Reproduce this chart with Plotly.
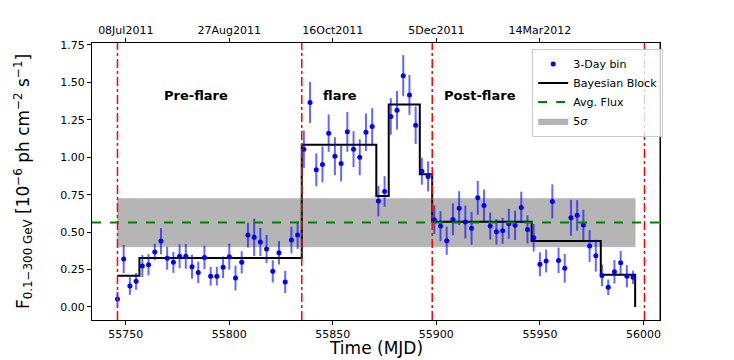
import plotly.graph_objects as go

# 3-day binned light curve (MJD, flux in 1e-6 ph cm^-2 s^-1)
mjd_start = 55746.0
flux = [0.053, 0.32, 0.14, 0.171, 0.273, 0.282, 0.367, 0.44, 0.325, 0.298,
        0.338, 0.338, 0.269, 0.231, 0.331, 0.205, 0.205, 0.265, 0.336, 0.193,
        0.298, 0.48, 0.465, 0.434, 0.387, 0.238, 0.362, 0.167, 0.447, 0.48,
        1.054, 1.366, 0.916, 0.952, 1.161, 1.007, 0.959, 1.17, 1.054, 1.0,
        1.167, 1.205, 0.707, 0.772, 1.272, 1.314, 1.545, 1.416, 1.214, 0.907,
        0.872, 0.583, 0.54, 0.442, 0.585, 0.66, 0.567, 0.525, 0.729, 0.678,
        0.54, 0.502, 0.509, 0.556, 0.545, 0.665, 0.518, 0.462, 0.285, 0.307,
        0.705, 0.311, 0.258, 0.596, 0.612, 0.547, 0.407, 0.342, 0.211, 0.131,
        0.235, 0.296, 0.205, 0.198]
flux_err = [0.049, 0.094, 0.059, 0.056, 0.074, 0.071, 0.056, 0.087, 0.076, 0.07,
            0.08, 0.083, 0.08, 0.072, 0.078, 0.062, 0.062, 0.072, 0.087, 0.083,
            0.074, 0.083, 0.125, 0.094, 0.094, 0.074, 0.078, 0.074, 0.089, 0.092,
            0.125, 0.137, 0.11, 0.12, 0.125, 0.127, 0.12, 0.133, 0.12, 0.12,
            0.125, 0.122, 0.102, 0.102, 0.122, 0.129, 0.137, 0.133, 0.125, 0.09,
            0.1, 0.096, 0.1, 0.094, 0.106, 0.113, 0.11, 0.11, 0.113, 0.106,
            0.09, 0.085, 0.087, 0.1, 0.098, 0.105, 0.094, 0.092, 0.08, 0.076,
            0.114, 0.085, 0.096, 0.12, 0.102, 0.102, 0.106, 0.106, 0.072, 0.052,
            0.078, 0.078, 0.074, 0.044]
mjd = [mjd_start + 3 * i for i in range(len(flux))]

# Bayesian blocks
bb_edges = [55746, 55756.6, 55835, 55871, 55877, 55892, 55898, 55946, 55979.4, 55996]
bb_values = [0.209, 0.327, 1.083, 0.741, 1.352, 0.887, 0.569, 0.44, 0.215, 0.0]

avg_flux = 0.565
band_low, band_high = 0.402, 0.725
band_x = [55746, 55996]

phase_lines = [55746, 55835, 55898, 56000.5]
phase_names = ["Pre-flare", "flare", "Post-flare"]
phase_label_x = [55784, 55853.5, 55921]
phase_label_y = 1.41

bottom_ticks = [55750, 55800, 55850, 55900, 55950, 56000]
top_ticks = [55750, 55800, 55850, 55900, 55950]
top_labels = ["08Jul2011", "27Aug2011", "16Oct2011", "5Dec2011", "14Mar2012"]

x_range = [55733.7, 56008]
y_range = [-0.087, 1.763]

fig = go.Figure()

# 5 sigma band
fig.add_trace(go.Scatter(
    x=[band_x[0], band_x[1], band_x[1], band_x[0], band_x[0]],
    y=[band_low, band_low, band_high, band_high, band_low],
    fill="toself", fillcolor="rgba(150,150,150,0.7)", mode="lines",
    line=dict(width=0.5, color="rgba(150,150,150,0.7)"),
    name="5<i>σ</i>", legendrank=4))

# avg flux line
fig.add_shape(type="line", xref="paper", x0=0, x1=1, yref="y",
              y0=avg_flux, y1=avg_flux,
              line=dict(color="green", width=2, dash="dash"))
fig.add_trace(go.Scatter(x=[None], y=[None], mode="lines",
                         line=dict(color="green", width=2, dash="dash"),
                         name="Avg. Flux", legendrank=3))

# phase separators
for xv in phase_lines:
    fig.add_shape(type="line", x0=xv, x1=xv, xref="x", yref="paper", y0=0, y1=1,
                  line=dict(color="red", width=1.5, dash="dashdot"))

# bayesian block step
fig.add_trace(go.Scatter(
    x=bb_edges, y=bb_values, mode="lines", line_shape="hv",
    line=dict(color="black", width=2), name="Bayesian Block", legendrank=2))

# 3-day bins
fig.add_trace(go.Scatter(
    x=mjd, y=flux, mode="markers",
    marker=dict(color="blue", size=5),
    error_y=dict(type="data", array=flux_err, color="rgba(0,0,255,0.6)",
                 thickness=2, width=0),
    name="3-Day bin", legendrank=1))

# dummy trace for top axis
fig.add_trace(go.Scatter(x=[None], y=[None], xaxis="x2", showlegend=False))

for name, xv in zip(phase_names, phase_label_x):
    fig.add_annotation(x=xv, y=phase_label_y, text="<b>" + name + "</b>",
                       showarrow=False, font=dict(size=13, color="black"))

# x title placed by hand
fig.add_annotation(x=0.5, y=-0.1, xref="paper", yref="paper", yanchor="middle",
                   text="Time (MJD)", showarrow=False, font=dict(size=17, color="black"))

axis_common = dict(showline=True, linecolor="black", linewidth=1, ticks="outside",
                   ticklen=4, tickcolor="black", showgrid=False, zeroline=False,
                   automargin=False, tickfont=dict(size=11, color="black"))

fig.update_layout(
    width=734, height=360,
    margin=dict(l=84, r=82, t=35, b=48),
    paper_bgcolor="white", plot_bgcolor="white",
    font=dict(family="DejaVu Sans", color="black"),
    xaxis=dict(range=x_range, tickvals=bottom_ticks, tickformat="d", mirror=False,
               **axis_common),
    xaxis2=dict(range=x_range, overlaying="x", side="top", tickvals=top_ticks,
                ticktext=top_labels, **axis_common),
    yaxis=dict(range=y_range, tickvals=[0, 0.25, 0.5, 0.75, 1.0, 1.25, 1.5, 1.75],
               tickformat=".2f", mirror=True,
               title=dict(text="F<sub>0.1−300 GeV</sub> [10<sup>−6</sup> ph cm<sup>−2</sup> s<sup>−1</sup>]",
                          font=dict(size=17), standoff=26),
               **axis_common),
    legend=dict(x=0.775, y=0.98, xanchor="left", yanchor="top",
                bgcolor="rgba(255,255,255,0.8)", bordercolor="#cccccc", borderwidth=1,
                font=dict(size=11), tracegroupgap=0, itemwidth=30),
    showlegend=True,
)

# right spine
fig.add_shape(type="line", xref="paper", yref="paper", x0=1, x1=1, y0=0, y1=1,
              line=dict(color="black", width=1))

fig.write_html("out.html")
